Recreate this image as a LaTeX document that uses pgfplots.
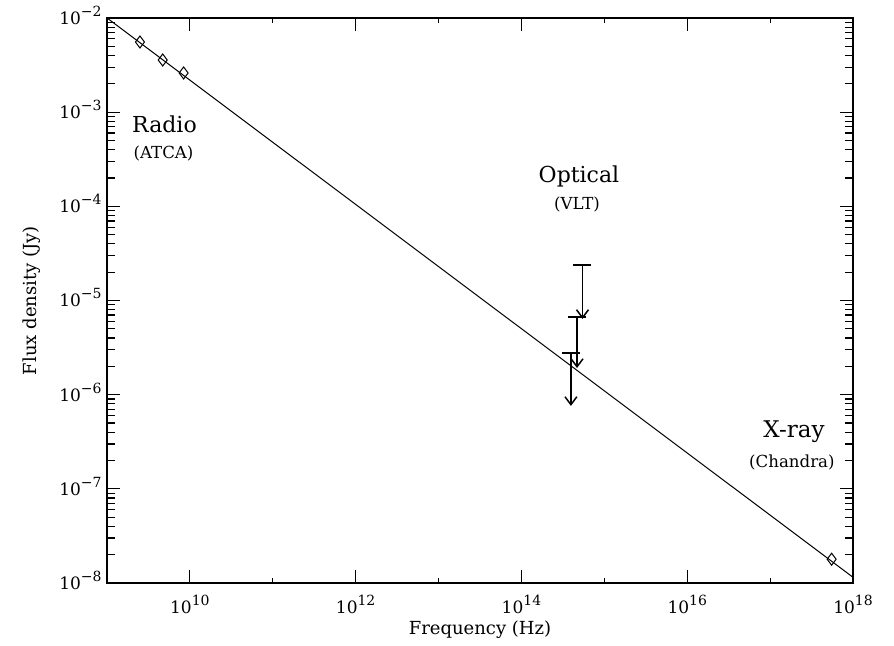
\documentclass[border=0pt]{standalone}
\usepackage{pgfplots}
\pgfplotsset{compat=1.18}
\usepackage{fontspec}
\setmainfont{DejaVu Serif}
\usetikzlibrary{arrows.meta}

\newcommand{\xtl}[1]{\fontsize{8.5}{10}\selectfont 10\raisebox{4pt}{\fontsize{7}{8}\selectfont #1}}
\newcommand{\ytl}[1]{\fontsize{8.5}{10}\selectfont 10\raisebox{4pt}{\fontsize{7}{8}\selectfont −#1}}

\begin{document}
\begin{tikzpicture}
\useasboundingbox (-53.5pt,-31.5pt) rectangle (393.5pt,291.5pt);
\begin{axis}[
  at={(0,0)}, anchor=south west,
  scale only axis, width=373pt, height=282.5pt,
  xmode=log, ymode=log,
  xmin=1e9, xmax=1e18, ymin=1e-8, ymax=1e-2,
  xtick={1e10,1e12,1e14,1e16,1e18},
  xticklabels={\xtl{10},\xtl{12},\xtl{14},\xtl{16},\xtl{18}},
  ytick={1e-8,1e-7,1e-6,1e-5,1e-4,1e-3,1e-2},
  yticklabels={\ytl{8},\ytl{7},\ytl{6},\ytl{5},\ytl{4},\ytl{3},\ytl{2}},
  extra x ticks={1e11,1e13,1e15,1e17},
  extra x tick labels={},
  extra x tick style={major tick length=2.5pt},
  major tick length=6.5pt, minor tick length=4pt,
  tick style={black, line width=0.6pt},
  axis line style={line width=0.75pt},
  xticklabel style={anchor=base, inner sep=0pt, yshift=-15pt},
  yticklabel style={anchor=base east, inner sep=0pt, xshift=-2.5pt, yshift=-3.2pt},
  xlabel={Frequency (Hz)}, ylabel={Flux density (Jy)},
  xlabel style={at={(axis description cs:0.5,-0.092)}, anchor=base, font=\fontsize{9}{11}\selectfont, inner sep=0pt},
  ylabel style={at={(axis description cs:-0.094,0.5)}, anchor=base, font=\fontsize{9}{11}\selectfont, inner sep=0pt},
]
\addplot[black, line width=0.5pt] coordinates {(1e9,1e-2) (1e18,1.15e-8)};
\addplot[only marks, mark=diamond, mark size=3pt, mark options={black, line width=0.5pt, fill=white}] coordinates {(2.5e9,5.56e-3) (4.7e9,3.58e-3) (8.4e9,2.61e-3) (5.52e17,1.79e-8)};
\addplot[black, line width=0.75pt, -{Straight Barb[length=4pt,width=6pt]}] coordinates {(5.45e14,2.38e-5) (5.45e14,6.37e-6)};
\addplot[black, line width=0.75pt, -{Straight Barb[length=4pt,width=6pt]}] coordinates {(4.68e14,6.68e-6) (4.68e14,1.92e-6)};
\addplot[black, line width=0.75pt, -{Straight Barb[length=4pt,width=6pt]}] coordinates {(3.95e14,2.77e-6) (3.95e14,7.59e-7)};
\addplot[only marks, mark=-, mark size=4.5pt, mark options={black, line width=0.75pt}] coordinates {(5.45e14,2.38e-5) (4.68e14,6.68e-6) (3.95e14,2.77e-6)};
\node[anchor=base, font=\fontsize{11}{13}\selectfont] at (axis cs:4.94e9,6.15e-4) {Radio};
\node[anchor=base, font=\fontsize{8.3}{10}\selectfont] at (axis cs:4.81e9,3.26e-4) {(ATCA)};
\node[anchor=base, font=\fontsize{11}{13}\selectfont] at (axis cs:4.94e14,1.77e-4) {Optical};
\node[anchor=base, font=\fontsize{8.3}{10}\selectfont] at (axis cs:4.68e14,9.3e-5) {(VLT)};
\node[anchor=base, font=\fontsize{11.5}{13}\selectfont] at (axis cs:1.94e17,3.47e-7) {X-ray};
\node[anchor=base, font=\fontsize{8.3}{10}\selectfont] at (axis cs:1.83e17,1.70e-7) {(Chandra)};
\end{axis}
\end{tikzpicture}
\end{document}
